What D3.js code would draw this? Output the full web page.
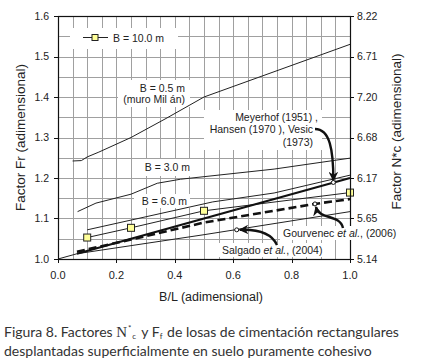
<!DOCTYPE html>
<html>
<head>
<meta charset="utf-8">
<script src="https://cdn.jsdelivr.net/npm/d3@7"></script>
<style>
  body { margin: 0; background: #fff; }
  svg { display: block; font-family: "Liberation Sans", Arial, sans-serif; }
</style>
</head>
<body>
<div id="chart"></div>
<script>
const width = 422;
const height = 359;
const plotLeft = 58, plotRight = 350, plotTop = 16, plotBottom = 259;

// tick values and labels
const xTicks = [0.0, 0.2, 0.4, 0.6, 0.8, 1.0];
const yTicks = [1.0, 1.1, 1.2, 1.3, 1.4, 1.5, 1.6];
const rightTickLabels = ["5.14", "5.65", "6.17", "6.68", "7.20", "6.71", "8.22"];

// curves: [B/L, Fr]
const b05 = [[0.05, 1.242], [0.08, 1.243], [0.10, 1.252], [0.14, 1.264], [0.25, 1.30], [0.37, 1.347], [0.50, 1.40], [1.0, 1.53]];
const b30 = [[0.067, 1.117], [0.13, 1.138], [0.25, 1.16], [0.34, 1.187], [0.42, 1.197], [0.74, 1.222], [1.0, 1.249]];
const b60 = [[0.10, 1.072], [0.53, 1.141], [0.74, 1.163], [1.0, 1.207]];
const b100 = [[0.10, 1.053], [0.25, 1.077], [0.50, 1.119], [1.0, 1.164]];
const meyerhof = [[0.065, 1.013], [1.0, 1.20]];
const gourvenec = [[0.065, 1.018], [0.25, 1.048], [0.50, 1.09], [0.88, 1.136], [1.0, 1.148]];
const salgado = [[0.0, 1.0], [0.065, 1.013], [0.50, 1.06], [1.0, 1.117]];

// points the arrows point at
const meyerhofPt = [0.943, 1.189];
const gourvenecPt = [0.88, 1.136];
const salgadoPt = [0.612, 1.072];

const x = d3.scaleLinear().domain([0, 1]).range([plotLeft, plotRight]);
const y = d3.scaleLinear().domain([1.0, 1.6]).range([plotBottom, plotTop]);

const svg = d3.select("#chart").append("svg")
    .attr("width", width)
    .attr("height", height);

svg.append("defs").append("marker")
    .attr("id", "head")
    .attr("viewBox", "0 0 10 10")
    .attr("refX", 9).attr("refY", 5)
    .attr("markerWidth", 4).attr("markerHeight", 4)
    .attr("markerUnits", "strokeWidth")
    .attr("orient", "auto")
    .append("path")
    .attr("d", "M0,0 L10,5 L0,10 L3,5 Z")
    .attr("fill", "#111");

// grid
const grid = svg.append("g").attr("stroke", "#a0a0a0").attr("stroke-width", 1);
grid.selectAll(".gx").data(d3.range(1, 20).map(i => i * 0.05)).enter()
    .append("line")
    .attr("x1", d => Math.round(x(d)) + 0.5).attr("x2", d => Math.round(x(d)) + 0.5)
    .attr("y1", plotTop).attr("y2", plotBottom);
grid.selectAll(".gy").data(d3.range(1, 12).map(i => 1 + i * 0.05)).enter()
    .append("line")
    .attr("y1", d => Math.round(y(d)) + 0.5).attr("y2", d => Math.round(y(d)) + 0.5)
    .attr("x1", plotLeft).attr("x2", plotRight);

// white boxes behind labels
const boxes = [[70, 28, 108, 21], [118, 80, 72, 27], [204, 110, 118, 40], [138, 159, 56, 17], [134, 194, 56, 14], [219, 243, 112, 14]];
svg.selectAll(".box").data(boxes).enter().append("rect")
    .attr("x", d => d[0]).attr("y", d => d[1])
    .attr("width", d => d[2]).attr("height", d => d[3])
    .attr("fill", "#fff");

const line = d3.line().x(d => x(d[0])).y(d => y(d[1]));

const thin = [b05, b30, b60, b100, salgado];
svg.selectAll(".thin").data(thin).enter().append("path")
    .attr("d", line)
    .attr("fill", "none")
    .attr("stroke", "#222")
    .attr("stroke-width", 1);

svg.append("path").attr("d", line(meyerhof))
    .attr("fill", "none").attr("stroke", "#111").attr("stroke-width", 2.2);

svg.append("path").attr("d", line(gourvenec))
    .attr("fill", "none").attr("stroke", "#111").attr("stroke-width", 2.6)
    .attr("stroke-dasharray", "8,4");

// squares on B = 10 m
svg.selectAll(".sq").data(b100).enter().append("rect")
    .attr("x", d => x(d[0]) - 3.5).attr("y", d => y(d[1]) - 3.5)
    .attr("width", 7).attr("height", 7)
    .attr("fill", "#ffff99").attr("stroke", "#222").attr("stroke-width", 1);

// frame
svg.append("rect")
    .attr("x", plotLeft + 0.5).attr("y", plotTop + 0.5)
    .attr("width", plotRight - plotLeft).attr("height", plotBottom - plotTop)
    .attr("fill", "none").attr("stroke", "#111").attr("stroke-width", 1.2);

// ticks
const tk = svg.append("g").attr("stroke", "#111");
tk.selectAll(".tl").data(yTicks).enter().append("line")
    .attr("x1", plotLeft - 4).attr("x2", plotLeft)
    .attr("y1", d => Math.round(y(d)) + 0.5).attr("y2", d => Math.round(y(d)) + 0.5);
tk.selectAll(".tr").data(yTicks).enter().append("line")
    .attr("x1", plotRight).attr("x2", plotRight + 4)
    .attr("y1", d => Math.round(y(d)) + 0.5).attr("y2", d => Math.round(y(d)) + 0.5);
tk.selectAll(".tb").data(xTicks).enter().append("line")
    .attr("x1", d => Math.round(x(d)) + 0.5).attr("x2", d => Math.round(x(d)) + 0.5)
    .attr("y1", plotBottom).attr("y2", plotBottom + 4);

svg.selectAll(".yl").data(yTicks).enter().append("text")
    .attr("x", plotLeft - 9).attr("y", d => y(d) + 3.5)
    .attr("text-anchor", "end").attr("font-size", 10.5).attr("fill", "#222")
    .text(d => d.toFixed(1));
svg.selectAll(".yr").data(yTicks).enter().append("text")
    .attr("x", plotRight + 7).attr("y", d => y(d) + 3.5)
    .attr("font-size", 10.5).attr("fill", "#222")
    .text((d, i) => rightTickLabels[i]);
svg.selectAll(".xl").data(xTicks).enter().append("text")
    .attr("x", d => x(d)).attr("y", plotBottom + 20)
    .attr("text-anchor", "middle").attr("font-size", 11).attr("fill", "#222")
    .text(d => d.toFixed(1));

// axis titles
svg.append("text")
    .attr("transform", "translate(25," + (plotTop + plotBottom) / 2 + ") rotate(-90)")
    .attr("text-anchor", "middle").attr("font-size", 13.5).attr("fill", "#222")
    .text("Factor Fr (adimensional)");
svg.append("text")
    .attr("transform", "translate(401," + ((plotTop + plotBottom) / 2 - 6) + ") rotate(-90)")
    .attr("text-anchor", "middle").attr("font-size", 13.5).attr("fill", "#222")
    .text("Factor N*c (adimensional)");
svg.append("text")
    .attr("x", 211).attr("y", 301)
    .attr("text-anchor", "middle").attr("font-size", 12.5).attr("fill", "#222")
    .text("B/L (adimensional)");

// legend
svg.append("line").attr("x1", 83).attr("x2", 108).attr("y1", 37.5).attr("y2", 37.5)
    .attr("stroke", "#222");
svg.append("rect").attr("x", 92).attr("y", 34.5).attr("width", 6).attr("height", 6)
    .attr("fill", "#ffff99").attr("stroke", "#222");
svg.append("text").attr("x", 113).attr("y", 41.5).attr("font-size", 10.5).attr("fill", "#222")
    .text("B = 10.0 m");

// in-plot labels
const lab = (tx, ty, s, anchor) => svg.append("text")
    .attr("x", tx).attr("y", ty).attr("font-size", 10.5).attr("fill", "#222")
    .attr("text-anchor", anchor || "start").text(s);
lab(185, 92, "B = 0.5 m", "end");
lab(185, 103, "(muro Mil án)", "end");
lab(190, 171, "B = 3.0 m", "end");
lab(187, 205, "B = 6.0 m", "end");
lab(318, 121, "Meyerhof (1951) ,", "end");
lab(313, 133, "Hansen (1970 ), Vesic", "end");
lab(313, 146, "(1973)", "end");

// Gourvenec label sits over the right axis
svg.append("rect").attr("x", 280).attr("y", 226).attr("width", 130).attr("height", 14).attr("fill", "#fff");
const g1 = svg.append("text").attr("x", 283).attr("y", 237).attr("font-size", 10.5).attr("fill", "#222");
g1.append("tspan").text("Gourvenec ");
g1.append("tspan").attr("font-style", "italic").text("et al.");
g1.append("tspan").text(", (2006)");
const s1 = svg.append("text").attr("x", 222).attr("y", 254).attr("font-size", 10.5).attr("fill", "#222");
s1.append("tspan").text("Salgado ");
s1.append("tspan").attr("font-style", "italic").text("et al.");
s1.append("tspan").text(", (2004)");

// arrows
const arrow = (d) => svg.append("path").attr("d", d)
    .attr("fill", "none").attr("stroke", "#111").attr("stroke-width", 2.4)
    .attr("marker-end", "url(#head)");
const mp = [x(meyerhofPt[0]), y(meyerhofPt[1])];
const gp = [x(gourvenecPt[0]), y(gourvenecPt[1])];
const sp = [x(salgadoPt[0]), y(salgadoPt[1])];
arrow(`M315,129 C330,129 ${mp[0]},150 ${mp[0]},${mp[1] - 2}`);
arrow(`M343,228 C340,214 ${gp[0] + 4},220 ${gp[0] + 1},${gp[1] + 3}`);
arrow(`M277,245 C272,234 260,229 ${sp[0] + 3},${sp[1]}`);

svg.selectAll(".pt").data([mp, gp, sp]).enter().append("circle")
    .attr("cx", d => d[0]).attr("cy", d => d[1]).attr("r", 2)
    .attr("fill", "#fff").attr("stroke", "#111").attr("stroke-width", 1);

// caption
const capFont = "Lato, 'Open Sans', sans-serif";
const cap = svg.append("text").attr("x", 4).attr("y", 337)
    .attr("font-family", capFont).attr("font-size", 14).attr("fill", "#333");
cap.append("tspan").text("Figura 8. Factores  ");
cap.append("tspan").attr("font-family", "'Liberation Serif', serif").attr("font-size", 15).text("N");
cap.append("tspan").attr("font-size", 8).attr("dx", 1).attr("dy", -6).text("*");
cap.append("tspan").attr("font-size", 8).attr("dx", 1).attr("dy", 8).text("c");
cap.append("tspan").attr("dx", 2).attr("dy", -2).text("  y F");
cap.append("tspan").attr("font-size", 8).attr("dy", 1.5).text("f");
cap.append("tspan").attr("dx", 1).attr("dy", -1.5).text(" de losas de cimentación rectangulares");
svg.append("text").attr("x", 4).attr("y", 355.5)
    .attr("font-family", capFont).attr("font-size", 14).attr("fill", "#333")
    .text("desplantadas superficialmente en suelo puramente cohesivo");
</script>
</body>
</html>
